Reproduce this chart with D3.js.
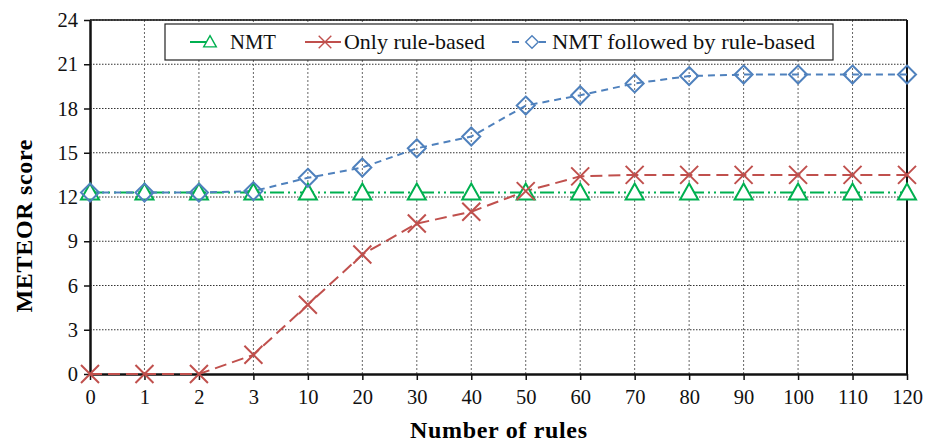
<!DOCTYPE html>
<html>
<head>
<meta charset="utf-8">
<script src="https://cdn.jsdelivr.net/npm/d3@7"></script>
<style>
  body { margin: 0; background: #fff; }
  text { font-family: "Liberation Serif", "Times New Roman", serif; }
</style>
</head>
<body>
<div id="chart"></div>
<script>
// data
const rules = ["0", "1", "2", "3", "10", "20", "30", "40", "50", "60", "70", "80", "90", "100", "110", "120"];
const nmt = [12.3, 12.3, 12.3, 12.3, 12.3, 12.3, 12.3, 12.3, 12.3, 12.3, 12.3, 12.3, 12.3, 12.3, 12.3, 12.3];
const onlyRule = [0, 0, 0, 1.3, 4.7, 8.1, 10.2, 11.0, 12.4, 13.4, 13.5, 13.5, 13.5, 13.5, 13.5, 13.5];
const nmtRule = [12.3, 12.3, 12.3, 12.4, 13.3, 14.0, 15.3, 16.1, 18.2, 18.9, 19.7, 20.2, 20.3, 20.3, 20.3, 20.3];
const yTicks = [0, 3, 6, 9, 12, 15, 18, 21, 24];

const width = 938;
const height = 442;
const margin = { top: 20, right: 31, bottom: 68, left: 90 };
const serif = "Liberation Serif, Times New Roman, serif";

const svg = d3.select("#chart")
  .append("svg")
  .attr("width", width)
  .attr("height", height)
  .attr("font-family", serif);

const x = d3.scalePoint()
  .domain(rules)
  .range([margin.left, width - margin.right]);

const y = d3.scaleLinear()
  .domain([0, 24])
  .range([height - margin.bottom, margin.top]);

// grid
svg.append("g")
  .selectAll("line")
  .data(yTicks.slice(1))
  .join("line")
  .attr("x1", margin.left)
  .attr("x2", width - margin.right)
  .attr("y1", (d) => y(d))
  .attr("y2", (d) => y(d))
  .attr("stroke", "#333")
  .attr("stroke-width", 1)
  .attr("stroke-dasharray", "1.5,1.5");

svg.append("g")
  .selectAll("line")
  .data(rules.slice(1, -1))
  .join("line")
  .attr("x1", (d) => x(d))
  .attr("x2", (d) => x(d))
  .attr("y1", y(0))
  .attr("y2", y(24))
  .attr("stroke", "#666")
  .attr("stroke-width", 1)
  .attr("stroke-dasharray", "2,2");

// frame on top and right
svg.append("line")
  .attr("x1", margin.left).attr("x2", width - margin.right)
  .attr("y1", y(24)).attr("y2", y(24))
  .attr("stroke", "#111").attr("stroke-width", 1.5);
svg.append("line")
  .attr("x1", width - margin.right).attr("x2", width - margin.right)
  .attr("y1", y(24)).attr("y2", y(0))
  .attr("stroke", "#111").attr("stroke-width", 2);

// axes
const xAxis = svg.append("g")
  .attr("transform", `translate(0,${y(0)})`)
  .call(d3.axisBottom(x).tickSizeInner(6).tickSizeOuter(0).tickPadding(6));
const yAxis = svg.append("g")
  .attr("transform", `translate(${margin.left},0)`)
  .call(d3.axisLeft(y).tickValues(yTicks).tickSizeInner(6).tickSizeOuter(0).tickPadding(6));

[xAxis, yAxis].forEach((a) => {
  a.attr("font-family", serif);
  a.select(".domain").attr("stroke", "#111").attr("stroke-width", 2.5);
  a.selectAll(".tick line").attr("stroke", "#111").attr("stroke-width", 1.5);
  a.selectAll(".tick text")
    .attr("font-size", 20.5)
    .attr("fill", "#111");
});
xAxis.selectAll(".tick text").attr("dy", "0.9em");

svg.append("text")
  .attr("x", (margin.left + width - margin.right) / 2)
  .attr("y", 438)
  .attr("text-anchor", "middle")
  .attr("font-weight", "bold")
  .attr("font-size", 24)
  .attr("textLength", 177)
  .text("Number of rules");

svg.append("text")
  .attr("transform", `translate(32,${y(12) + 29}) rotate(-90)`)
  .attr("text-anchor", "middle")
  .attr("font-weight", "bold")
  .attr("font-size", 24)
  .attr("textLength", 173)
  .text("METEOR score");

// series
const series = [
  { name: "NMT", values: nmt, color: "#00B050", dash: "14,4,2,4,2,4", marker: "triangle" },
  { name: "Only rule-based", values: onlyRule, color: "#C0504D", dash: "12,6", marker: "cross" },
  { name: "NMT followed by rule-based", values: nmtRule, color: "#4F81BD", dash: "7,5", marker: "diamond" }
];

const line = d3.line()
  .x((d, i) => x(rules[i]))
  .y((d) => y(d));

function drawMarker(g, type, color) {
  if (type === "triangle") {
    g.append("path").attr("d", "M0,-9L9,7L-9,7Z")
      .attr("fill", "#fff").attr("stroke", color).attr("stroke-width", 2);
  } else if (type === "cross") {
    g.append("path").attr("d", "M-9,-9L9,9M-9,9L9,-9")
      .attr("stroke", color).attr("stroke-width", 2);
  } else {
    g.append("path").attr("d", "M0,-9L9,0L0,9L-9,0Z")
      .attr("fill", "none").attr("stroke", color).attr("stroke-width", 2);
  }
}

series.forEach((s) => {
  svg.append("path")
    .datum(s.values)
    .attr("fill", "none")
    .attr("stroke", s.color)
    .attr("stroke-width", 2)
    .attr("stroke-dasharray", s.dash)
    .attr("d", line);
});

// markers drawn after lines
series.forEach((s) => {
  s.values.forEach((v, i) => {
    const g = svg.append("g").attr("transform", `translate(${x(rules[i])},${y(v)})`);
    drawMarker(g, s.marker, s.color);
  });
});

// legend
const legend = svg.append("g");
legend.append("rect")
  .attr("x", 165).attr("y", 24)
  .attr("width", 668).attr("height", 36)
  .attr("fill", "#fff")
  .attr("stroke", "#222")
  .attr("stroke-width", 1.2);

const legendItems = [
  { s: series[0], x: 190, tx: 230, len: 46, dash: "16,4,2,20,2,4" },
  { s: series[1], x: 305, tx: 344, len: 141, dash: null },
  { s: series[2], x: 512, tx: 552, len: 263, dash: "7,8,0,12,7,8" }
];

legendItems.forEach(({ s, x: lx, tx, len, dash }) => {
  const cy = 42;
  legend.append("line")
    .attr("x1", lx).attr("x2", lx + 36)
    .attr("y1", cy).attr("y2", cy)
    .attr("stroke", s.color).attr("stroke-width", 2)
    .attr("stroke-dasharray", dash);
  const g = legend.append("g").attr("transform", `translate(${lx + 20},${cy})`);
  const m = g.append("g").attr("transform", "scale(0.7)");
  drawMarker(m, s.marker, s.color);
  legend.append("text")
    .attr("x", tx)
    .attr("y", cy + 7)
    .attr("font-family", serif)
    .attr("font-size", 22)
    .attr("textLength", len)
    .attr("lengthAdjust", "spacingAndGlyphs")
    .attr("fill", "#111")
    .text(s.name);
});
</script>
</body>
</html>
